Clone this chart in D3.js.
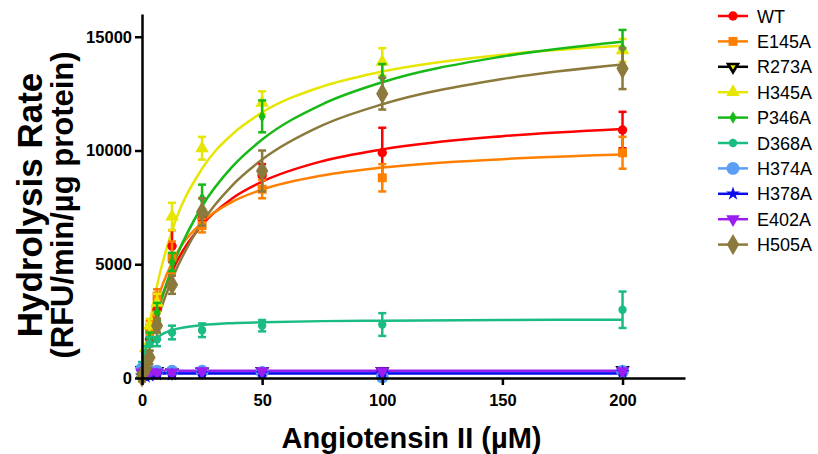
<!DOCTYPE html>
<html lang="en">
<head>
<meta charset="UTF-8">
<title>Hydrolysis Rate vs Angiotensin II</title>
<style>
  html, body { margin: 0; padding: 0; background: #fff; }
  svg { display: block; font-family: Arial, 'Liberation Sans', sans-serif; }
</style>
</head>
<body>
<div id="chart"></div>
<script src="https://cdn.jsdelivr.net/npm/d3@7"></script>
<script>
// data
const concs = [0, 1.5625, 3.125, 6.25, 12.5, 25, 50, 100, 200];
const fitX = [0, 1.5625, 3.125, 6.25, 12.5, 25, 37.5, 50, 75, 100, 150, 200];

const names = ["WT", "E145A", "R273A", "H345A", "P346A", "D368A", "H374A", "H378A", "E402A", "H505A"];
const colors = ["#ff0000", "#ff8000", "#000000", "#e6e600", "#17b917", "#1abc81", "#5a9ef5", "#0b0bf0", "#9a1ef0", "#8c7a3c"];
const shapes = ["circle", "square", "tridown", "triangle", "diamond", "circle", "circle", "star", "tridown", "diamond"];
const sizes = [70, 80, 90, 80, 45, 55, 130, 60, 80, 130];

const means = {
  WT:    [100, 900, 1700, 3000, 5800, 7000, 8900, 9900, 10900],
  E145A: [150, 1200, 2200, 3600, 5300, 6700, 8300, 8800, 9900],
  R273A: [350, 300, 300, 300, 250, 280, 300, 300, 350],
  H345A: [300, 1300, 2300, 3300, 7100, 10100, 12100, 13900, 14400],
  P346A: [200, 900, 1700, 2900, 5100, 7900, 11500, 13200, 14500],
  D368A: [500, 1100, 1500, 1700, 2000, 2100, 2300, 2350, 3000],
  H374A: [400, 350, 300, 300, 300, 300, 250, 50, 300],
  H378A: [100, 50, 100, 150, 150, 200, 200, 200, 250],
  E402A: [250, 300, 250, 250, 250, 300, 300, 300, 300],
  H505A: [50, 400, 900, 2300, 4100, 7300, 9100, 12500, 13600]
};
const errs = {
  WT:    [100, 200, 300, 400, 700, 400, 500, 1100, 800],
  E145A: [100, 200, 300, 300, 700, 300, 400, 600, 700],
  R273A: [100, 100, 100, 100, 100, 100, 100, 100, 100],
  H345A: [100, 200, 300, 400, 600, 500, 500, 600, 500],
  P346A: [100, 200, 300, 400, 400, 600, 700, 600, 800],
  D368A: [200, 300, 300, 300, 300, 300, 250, 500, 800],
  H374A: [100, 100, 100, 100, 100, 100, 100, 100, 100],
  H378A: [80, 80, 80, 80, 80, 80, 80, 80, 80],
  E402A: [80, 80, 80, 80, 80, 80, 80, 80, 80],
  H505A: [200, 200, 300, 300, 400, 600, 900, 700, 900]
};
// fitted curves
const fits = {
  WT:    [0, 880, 1650, 2900, 4670, 6730, 7890, 8630, 9530, 10050, 10630, 10950],
  E145A: [0, 1100, 2000, 3360, 5080, 6840, 7740, 8280, 8900, 9250, 9620, 9820],
  R273A: [300, 300, 300, 300, 300, 300, 300, 300, 300, 300, 300, 300],
  H345A: [0, 1250, 2330, 4060, 6470, 9200, 10710, 11670, 12810, 13470, 14210, 14600],
  P346A: [0, 800, 1540, 2820, 4840, 7550, 9280, 10480, 12030, 13000, 14130, 14780],
  D368A: [0, 890, 1330, 1760, 2100, 2320, 2410, 2450, 2500, 2520, 2550, 2560],
  H374A: [250, 250, 250, 250, 250, 250, 250, 250, 250, 250, 250, 250],
  H378A: [200, 200, 200, 200, 200, 200, 200, 200, 200, 200, 200, 200],
  E402A: [320, 320, 320, 320, 320, 320, 320, 320, 320, 320, 320, 320],
  H505A: [0, 710, 1360, 2510, 4340, 6840, 8460, 9600, 11100, 12030, 13140, 13780]
};
const yTicks = [0, 5000, 10000, 15000];
const xTicks = [0, 50, 100, 150, 200];

const W = 818, H = 454;
const margin = {top: 14, left: 142, right: 133, bottom: 76};

const svg = d3.select("#chart").append("svg")
  .attr("width", W).attr("height", H);

const x = d3.scaleLinear().domain([0, 226]).range([margin.left, W - margin.right]);
const y = d3.scaleLinear().domain([0, 16000]).range([H - margin.bottom, margin.top]);

function symbolPath(shape, size) {
  const types = {circle: d3.symbolCircle, square: d3.symbolSquare, triangle: d3.symbolTriangle,
    tridown: d3.symbolTriangle, diamond: d3.symbolDiamond, star: d3.symbolStar};
  return d3.symbol().type(types[shape]).size(size)();
}
function drawMarker(g, i, px, py) {
  const m = g.append("path")
    .attr("d", symbolPath(shapes[i], sizes[i]))
    .attr("fill", colors[i])
    .attr("transform", `translate(${px},${py})` + (shapes[i] === "tridown" ? " rotate(180)" : ""));
  if (names[i] === "R273A") {
    g.append("path")
      .attr("d", symbolPath("triangle", 12))
      .attr("fill", "#e6e600")
      .attr("transform", `translate(${px},${py}) rotate(180)`);
  }
  return m;
}

const line = d3.line().x(d => x(d[0])).y(d => y(d[1])).curve(d3.curveMonotoneX);

// curves
names.forEach((n, i) => {
  svg.append("path")
    .datum(fitX.map((v, j) => [v, fits[n][j]]))
    .attr("d", line)
    .attr("fill", "none")
    .attr("stroke", colors[i])
    .attr("stroke-width", 2.5);
});

// error bars + markers
names.forEach((n, i) => {
  const g = svg.append("g");
  concs.forEach((c, j) => {
    const m = means[n][j], e = errs[n][j];
    const px = x(c);
    g.append("line").attr("x1", px).attr("x2", px)
      .attr("y1", y(m + e)).attr("y2", y(Math.max(m - e, -200)))
      .attr("stroke", colors[i]).attr("stroke-width", 2.5);
    [m + e, m - e].forEach(v => {
      g.append("line").attr("x1", px - 4).attr("x2", px + 4)
        .attr("y1", y(v)).attr("y2", y(v))
        .attr("stroke", colors[i]).attr("stroke-width", 2.5);
    });
    drawMarker(g, i, px, y(m));
  });
});

// axes
const xAxis = svg.append("g")
  .attr("transform", `translate(0,${y(0)})`)
  .call(d3.axisBottom(x).tickValues(xTicks).tickSize(7).tickSizeOuter(0).tickPadding(9));
const yAxis = svg.append("g")
  .attr("transform", `translate(${x(0)},0)`)
  .call(d3.axisLeft(y).tickValues(yTicks).tickFormat(d3.format("d")).tickSize(7).tickSizeOuter(0).tickPadding(3));
[xAxis, yAxis].forEach(a => {
  a.select(".domain").attr("stroke", "#000").attr("stroke-width", 2.5);
  a.selectAll(".tick line").attr("stroke", "#000").attr("stroke-width", 2.5);
  a.selectAll(".tick text").attr("fill", "#000")
    .style("font-size", "16.5px").style("font-weight", "bold")
    .style("font-family", "Arial, 'Liberation Sans', sans-serif");
});

// axis titles
svg.append("text")
  .attr("x", (x(0) + x(226)) / 2 - 2).attr("y", 448)
  .attr("text-anchor", "middle")
  .style("font-size", "29px").style("font-weight", "bold")
  .text("Angiotensin II (µM)");

const yt = svg.append("text")
  .attr("transform", "translate(42,205) rotate(-90)")
  .attr("text-anchor", "middle")
  .style("font-weight", "bold");
yt.append("tspan").attr("x", 0).attr("y", 0).style("font-size", "35px").text("Hydrolysis Rate");
yt.append("tspan").attr("x", 0).attr("y", 31).style("font-size", "31px").text("(RFU/min/µg protein)");

// legend
const legend = svg.append("g");
names.forEach((n, i) => {
  const ly = 16 + i * 25.4;
  legend.append("line").attr("x1", 718).attr("x2", 748).attr("y1", ly).attr("y2", ly)
    .attr("stroke", colors[i]).attr("stroke-width", 2.5);
  drawMarker(legend, i, 733, ly);
  legend.append("text").attr("x", 757).attr("y", ly + 6.5)
    .style("font-size", "18px").text(n);
});
</script>
</body>
</html>
